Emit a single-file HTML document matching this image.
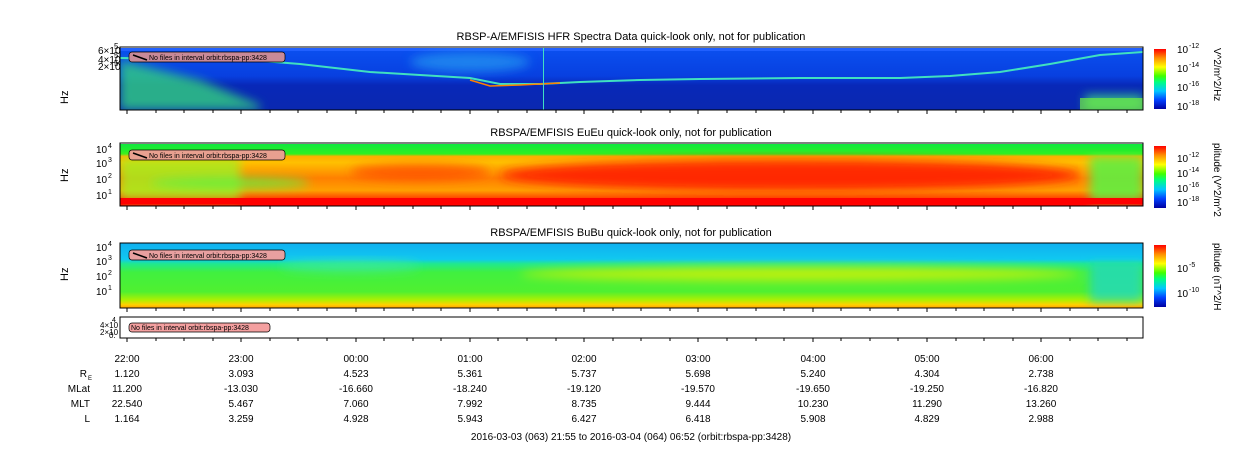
<!DOCTYPE html>
<html><head><style>
body{margin:0;background:#fff;}
svg{display:block;font-family:"Liberation Sans",sans-serif;}
</style></head><body>
<svg width="1250" height="449" viewBox="0 0 1250 449" xmlns="http://www.w3.org/2000/svg">
<defs>
<linearGradient id="cb" x1="0" y1="1" x2="0" y2="0">
<stop offset="0" stop-color="#0000a0"/><stop offset="0.15" stop-color="#0040ff"/><stop offset="0.3" stop-color="#00c8ff"/>
<stop offset="0.45" stop-color="#00ff80"/><stop offset="0.55" stop-color="#40ff00"/><stop offset="0.7" stop-color="#ffff00"/>
<stop offset="0.85" stop-color="#ff9000"/><stop offset="1" stop-color="#ff0000"/></linearGradient>
<linearGradient id="p1" x1="0" y1="0" x2="0" y2="1">
<stop offset="0" stop-color="#0a50f0"/><stop offset="0.45" stop-color="#0840e0"/><stop offset="0.6" stop-color="#0828b8"/><stop offset="1" stop-color="#0a28b0"/></linearGradient>
<linearGradient id="p2" x1="0" y1="0" x2="0" y2="1">
<stop offset="0" stop-color="#10e840"/><stop offset="0.16" stop-color="#30f020"/><stop offset="0.2" stop-color="#ffb000"/>
<stop offset="0.3" stop-color="#ffc000"/><stop offset="0.55" stop-color="#ff8000"/><stop offset="0.75" stop-color="#ffa000"/>
<stop offset="0.88" stop-color="#ff4000"/><stop offset="0.9" stop-color="#ff1000"/><stop offset="1" stop-color="#ff0000"/></linearGradient>
<linearGradient id="p3" x1="0" y1="0" x2="0" y2="1">
<stop offset="0" stop-color="#10b0f0"/><stop offset="0.25" stop-color="#10c8f0"/><stop offset="0.32" stop-color="#20e890"/>
<stop offset="0.45" stop-color="#40f040"/><stop offset="0.75" stop-color="#50f030"/><stop offset="0.88" stop-color="#b0f000"/>
<stop offset="0.95" stop-color="#ffd000"/><stop offset="1" stop-color="#ffa000"/></linearGradient>
<filter id="bl"><feGaussianBlur stdDeviation="5"/></filter>
<clipPath id="c1"><rect x="120" y="48" width="1023" height="62"/></clipPath>
<clipPath id="c2"><rect x="120" y="144" width="1023" height="62"/></clipPath>
<clipPath id="c3"><rect x="120" y="243" width="1023" height="65"/></clipPath>
</defs>

<g font-size="11" fill="#000" text-anchor="middle">
<text x="631" y="40">RBSP-A/EMFISIS  HFR Spectra Data quick-look only, not for publication</text>
<text x="631" y="136">RBSPA/EMFISIS  EuEu quick-look only, not for publication</text>
<text x="631" y="236">RBSPA/EMFISIS  BuBu quick-look only, not for publication</text>
</g>

<!-- panel 1 -->
<g clip-path="url(#c1)">
<rect x="120" y="48" width="1023" height="62" fill="url(#p1)"/>
<rect x="120" y="48" width="1023" height="3" fill="#2060ff"/>
<g filter="url(#bl)" opacity="0.8">
<polygon points="120,60 200,80 260,105 260,110 120,110" fill="#30d080"/>
<ellipse cx="470" cy="62" rx="60" ry="10" fill="#2090f0"/>
<rect x="1085" y="95" width="58" height="15" fill="#40e080"/>
</g>
<polyline points="120,58 250,60 300,64 370,72 420,75 470,78 500,84 540,84 580,82 640,80 700,79 800,78 900,78 950,76 1000,72 1050,64 1100,55 1143,52" fill="none" stroke="#40e0c0" stroke-width="2"/>
<polyline points="470,80 490,86 520,85 560,83" fill="none" stroke="#ff8000" stroke-width="1.5"/>
<rect x="543" y="48" width="1" height="62" fill="#40e0c0"/>
<rect x="1080" y="98" width="63" height="12" fill="#70f040" opacity="0.7"/>
</g>
<rect x="120" y="47" width="1023" height="63" fill="none" stroke="#000"/>

<!-- panel 2 -->
<g clip-path="url(#c2)">
<rect x="120" y="144" width="1023" height="62" fill="url(#p2)"/>
<g filter="url(#bl)">
<ellipse cx="790" cy="175" rx="290" ry="16" fill="#ff2000" opacity="0.9"/>
<ellipse cx="420" cy="172" rx="70" ry="8" fill="#ff4000" opacity="0.7"/>
<rect x="1090" y="156" width="53" height="45" fill="#60f040" opacity="0.9"/>
<polygon points="120,158 240,158 240,200 120,200" fill="#a0f020" opacity="0.8"/>
<ellipse cx="230" cy="183" rx="80" ry="6" fill="#60f040" opacity="0.8"/>
</g>
<rect x="120" y="198" width="1023" height="6" fill="#ff0000"/>
</g>
<rect x="120" y="143" width="1023" height="63" fill="none" stroke="#000"/>

<!-- panel 3 -->
<g clip-path="url(#c3)">
<rect x="120" y="243" width="1023" height="65" fill="url(#p3)"/>
<g filter="url(#bl)">
<ellipse cx="800" cy="274" rx="280" ry="7" fill="#e0f000" opacity="0.8"/>
<ellipse cx="350" cy="266" rx="70" ry="6" fill="#40e8a0" opacity="0.7"/>
<rect x="1090" y="262" width="53" height="40" fill="#20d8c0" opacity="0.8"/>
</g>
</g>
<rect x="120" y="243" width="1023" height="65" fill="none" stroke="#000"/>

<rect x="120" y="317" width="1023" height="21" fill="#fff" stroke="#000"/>

<g font-size="7" fill="#000">
<rect x="129" y="52" width="156" height="10" rx="3" fill="#c88a98" stroke="#000" stroke-width="0.7"/>
<line x1="133" y1="55" x2="147" y2="60" stroke="#000" stroke-width="1.5"/>
<text x="149" y="60">No files in interval orbit:rbspa-pp:3428</text>
<rect x="129" y="150" width="156" height="10" rx="3" fill="#e8a090" stroke="#000" stroke-width="0.7"/>
<line x1="133" y1="153" x2="147" y2="158" stroke="#000" stroke-width="1.5"/>
<text x="149" y="158">No files in interval orbit:rbspa-pp:3428</text>
<rect x="129" y="250" width="156" height="10" rx="3" fill="#e8a0a0" stroke="#000" stroke-width="0.7"/>
<line x1="133" y1="253" x2="147" y2="258" stroke="#000" stroke-width="1.5"/>
<text x="149" y="258">No files in interval orbit:rbspa-pp:3428</text>
<rect x="129" y="323" width="141" height="9" rx="3" fill="#f4a0a0" stroke="#000" stroke-width="0.7"/>
<text x="131" y="330">No files in interval orbit:rbspa-pp:3428</text>
</g>

<g font-size="10" fill="#000">
<text x="68" y="104" transform="rotate(-90 68 104)" font-size="11">Hz</text>
<text x="68" y="182" transform="rotate(-90 68 182)" font-size="11">Hz</text>
<text x="68" y="281" transform="rotate(-90 68 281)" font-size="11">Hz</text>
<text x="98" y="54" font-size="10">6×10</text><text x="114" y="49" font-size="8">5</text>
<text x="98" y="63" font-size="10">4×10</text><text x="114" y="58" font-size="8">5</text>
<text x="98" y="70" font-size="10">2×10</text><text x="114" y="66" font-size="8">5</text>
<text x="96" y="153">10</text><text x="108" y="148" font-size="7">4</text>
<text x="96" y="167">10</text><text x="108" y="162" font-size="7">3</text>
<text x="96" y="183">10</text><text x="108" y="178" font-size="7">2</text>
<text x="96" y="199">10</text><text x="108" y="194" font-size="7">1</text>
<text x="96" y="251">10</text><text x="108" y="246" font-size="7">4</text>
<text x="96" y="265">10</text><text x="108" y="260" font-size="7">3</text>
<text x="96" y="280">10</text><text x="108" y="275" font-size="7">2</text>
<text x="96" y="295">10</text><text x="108" y="290" font-size="7">1</text>
<text x="100" y="328" font-size="8">4×10</text><text x="112" y="322" font-size="7">4</text>
<text x="100" y="335" font-size="8">2×10</text><text x="109" y="338" font-size="8">0.</text>
</g>

<g stroke="#000" stroke-width="1">
<path id="tk" d="M127,110v4M156,110v3M184,110v3M213,110v3M241,110v4M270,110v3M298,110v3M327,110v3M356,110v4M384,110v3M413,110v3M441,110v3M470,110v4M498,110v3M527,110v3M556,110v3M584,110v4M613,110v3M641,110v3M670,110v3M698,110v4M727,110v3M756,110v3M784,110v3M813,110v4M841,110v3M870,110v3M898,110v3M927,110v4M956,110v3M984,110v3M1013,110v3M1041,110v4M1070,110v3M1098,110v3M1127,110v3"/>
<use href="#tk" y="96"/><use href="#tk" y="198"/><use href="#tk" y="228"/>
</g>

<g font-size="10" fill="#000">
<rect x="1154" y="49" width="12" height="60" fill="url(#cb)"/>
<rect x="1154" y="146" width="12" height="62" fill="url(#cb)"/>
<rect x="1154" y="245" width="12" height="62" fill="url(#cb)"/>
<text x="1177" y="53">10</text><text x="1189" y="48" font-size="7">-12</text>
<text x="1177" y="72">10</text><text x="1189" y="67" font-size="7">-14</text>
<text x="1177" y="91">10</text><text x="1189" y="86" font-size="7">-16</text>
<text x="1177" y="110">10</text><text x="1189" y="105" font-size="7">-18</text>
<text x="1177" y="162">10</text><text x="1189" y="157" font-size="7">-12</text>
<text x="1177" y="177">10</text><text x="1189" y="172" font-size="7">-14</text>
<text x="1177" y="192">10</text><text x="1189" y="187" font-size="7">-16</text>
<text x="1177" y="206">10</text><text x="1189" y="201" font-size="7">-18</text>
<text x="1177" y="272">10</text><text x="1189" y="267" font-size="7">-5</text>
<text x="1177" y="297">10</text><text x="1189" y="292" font-size="7">-10</text>
<text x="1214" y="48" transform="rotate(90 1214 48)">V^2/m^2/Hz</text>
<text x="1214" y="143" transform="rotate(90 1214 143)">plitude (V^2/m^2</text>
<text x="1214" y="243" transform="rotate(90 1214 243)">plitude (nT^2/H</text>
</g>

<g font-size="10" fill="#000" text-anchor="middle">
<text x="127" y="362">22:00</text><text x="241" y="362">23:00</text><text x="356" y="362">00:00</text><text x="470" y="362">01:00</text><text x="584" y="362">02:00</text><text x="698" y="362">03:00</text><text x="813" y="362">04:00</text><text x="927" y="362">05:00</text><text x="1041" y="362">06:00</text>
<text x="127" y="377">1.120</text><text x="241" y="377">3.093</text><text x="356" y="377">4.523</text><text x="470" y="377">5.361</text><text x="584" y="377">5.737</text><text x="698" y="377">5.698</text><text x="813" y="377">5.240</text><text x="927" y="377">4.304</text><text x="1041" y="377">2.738</text>
<text x="127" y="392">11.200</text><text x="241" y="392">-13.030</text><text x="356" y="392">-16.660</text><text x="470" y="392">-18.240</text><text x="584" y="392">-19.120</text><text x="698" y="392">-19.570</text><text x="813" y="392">-19.650</text><text x="927" y="392">-19.250</text><text x="1041" y="392">-16.820</text>
<text x="127" y="407">22.540</text><text x="241" y="407">5.467</text><text x="356" y="407">7.060</text><text x="470" y="407">7.992</text><text x="584" y="407">8.735</text><text x="698" y="407">9.444</text><text x="813" y="407">10.230</text><text x="927" y="407">11.290</text><text x="1041" y="407">13.260</text>
<text x="127" y="422">1.164</text><text x="241" y="422">3.259</text><text x="356" y="422">4.928</text><text x="470" y="422">5.943</text><text x="584" y="422">6.427</text><text x="698" y="422">6.418</text><text x="813" y="422">5.908</text><text x="927" y="422">4.829</text><text x="1041" y="422">2.988</text>
<text x="631" y="440">2016-03-03 (063) 21:55 to 2016-03-04 (064) 06:52 (orbit:rbspa-pp:3428)</text>
</g>
<g font-size="10" fill="#000" text-anchor="end">
<text x="87" y="377">R</text><text x="92" y="380" font-size="6">E</text>
<text x="90" y="392">MLat</text><text x="90" y="407">MLT</text><text x="90" y="422">L</text>
</g>
</svg>
</body></html>
